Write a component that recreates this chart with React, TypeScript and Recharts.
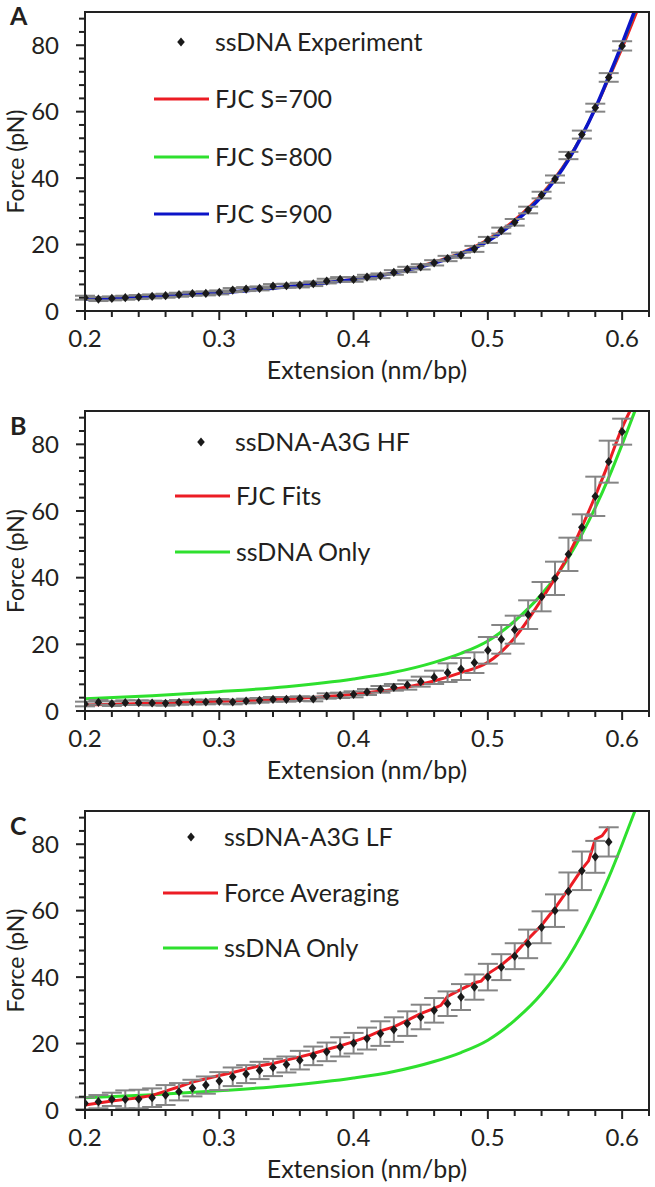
import { ComposedChart, Line, Scatter, ErrorBar, XAxis, YAxis } from 'recharts'

// extension (nm/bp) of the measured points
const EXT = [0.2, 0.21, 0.22, 0.23, 0.24, 0.25, 0.26, 0.27, 0.28, 0.29, 0.3, 0.31, 0.32, 0.33, 0.34, 0.35, 0.36, 0.37, 0.38, 0.39, 0.4,
  0.41, 0.42, 0.43, 0.44, 0.45, 0.46, 0.47, 0.48, 0.49, 0.5, 0.51, 0.52, 0.53, 0.54, 0.55, 0.56, 0.57, 0.58, 0.59, 0.6]

// A: ssDNA experiment
const A_FORCE = [4.0, 3.6, 3.8, 4.0, 4.2, 4.4, 4.6, 4.9, 5.2, 5.3, 5.6, 6.3, 6.6, 6.8, 7.5, 7.6, 7.8, 8.2, 9.0, 9.5, 9.5,
  10.2, 10.6, 11.6, 12.5, 13.3, 14.5, 15.8, 16.8, 18.7, 21.4, 24.2, 26.7, 30.4, 34.9, 39.7, 46.8, 53.1, 61.2, 70.3, 79.8]
const A_ERR = [0.6, 0.6, 0.6, 0.6, 0.6, 0.6, 0.6, 0.6, 0.6, 0.6, 0.6, 0.6, 0.6, 0.6, 0.6, 0.6, 0.7, 0.7, 0.7, 0.7, 0.7,
  0.7, 0.7, 0.7, 0.8, 0.8, 0.8, 0.8, 0.8, 0.9, 0.9, 0.9, 1.0, 1.0, 1.0, 1.1, 1.1, 1.2, 1.2, 1.3, 1.4]

// B: ssDNA-A3G HF
const B_FORCE = [2.1, 2.6, 2.2, 2.5, 2.5, 2.4, 2.3, 2.6, 2.7, 2.7, 2.9, 2.7, 3.0, 3.2, 3.5, 3.5, 3.7, 3.6, 4.5, 4.7, 5.0,
  5.7, 6.5, 7.1, 7.8, 8.8, 10.1, 11.5, 12.6, 14.5, 18.2, 21.5, 24.4, 28.9, 34.3, 39.8, 47.0, 55.1, 64.4, 74.8, 83.8]
const B_ERR = [0.7, 0.7, 0.7, 0.7, 0.7, 0.7, 0.7, 0.7, 0.7, 0.7, 0.7, 0.7, 0.7, 0.7, 0.7, 0.7, 0.7, 0.7, 0.8, 0.8, 0.9,
  0.9, 1.0, 1.0, 1.4, 1.5, 2.0, 2.8, 3.3, 3.1, 4.0, 4.3, 4.2, 4.3, 4.4, 5.0, 5.0, 3.9, 5.9, 6.3, 3.9]

// C: ssDNA-A3G LF (0.20 .. 0.59)
const C_FORCE = [2.0, 2.5, 3.2, 3.2, 3.3, 3.7, 4.5, 5.5, 6.6, 7.5, 8.7, 10.0, 10.8, 11.9, 12.8, 13.7, 15.0, 16.3, 17.5, 19.0,
  20.1, 21.5, 23.0, 24.2, 26.0, 28.0, 30.0, 32.0, 34.0, 37.0, 40.0, 43.0, 46.3, 50.0, 55.0, 60.0, 65.8, 72.0, 76.2, 80.7]
const C_ERR = [1.8, 2.0, 2.0, 2.7, 2.8, 2.8, 3.0, 2.6, 2.5, 2.6, 2.7, 2.8, 2.7, 2.6, 2.6, 2.4, 2.8, 2.8, 2.8, 2.9,
  3.1, 3.3, 3.7, 3.7, 3.7, 3.7, 3.7, 3.7, 3.9, 3.8, 4.0, 3.9, 3.9, 4.3, 4.8, 4.9, 5.7, 5.8, 4.8, 4.4]

// fitted curves
const FIT_EXT = [0.2, 0.25, 0.3, 0.35, 0.4, 0.43, 0.46, 0.48, 0.5, 0.52, 0.54, 0.56, 0.58, 0.59, 0.6]
const FJC700 = [3.5, 4.3, 5.5, 7.3, 9.6, 11.6, 14.8, 17.6, 21.6, 27.5, 35.2, 46.0, 60.8, 69.8, 79.0]
const FJC700_END = [0.611, 90]
const FJC800 = [3.5, 4.3, 5.5, 7.3, 9.5, 11.5, 14.6, 17.4, 21.3, 27.0, 34.8, 45.8, 61.0, 70.2, 80.0]
const FJC800_END = [0.6095, 90]
const FJC900 = [3.5, 4.3, 5.5, 7.3, 9.5, 11.4, 14.4, 17.2, 21.0, 26.8, 34.5, 45.5, 61.0, 70.5, 80.5]
const FJC900_END = [0.609, 90]
const HF_FIT = [1.8, 2.3, 2.9, 3.6, 5.0, 6.5, 9.0, 11.5, 14.6, 22.0, 33.5, 46.8, 64.5, 74.5, 85.0]
const HF_FIT_END = [0.6058, 90]
const SSDNA_ONLY = [3.7, 4.6, 5.8, 7.3, 9.6, 11.6, 14.6, 17.3, 21.0, 27.0, 35.0, 46.0, 61.0, 70.0, 80.0]
const SSDNA_ONLY_END = [0.6095, 90]

// C: force averaging trace
const AVG_EXT = [0.2, 0.21, 0.22, 0.23, 0.24, 0.25, 0.26, 0.27, 0.28, 0.29, 0.3, 0.31, 0.32, 0.33, 0.34, 0.35, 0.36, 0.37, 0.38, 0.39,
  0.4, 0.41, 0.42, 0.43, 0.44, 0.45, 0.46, 0.465, 0.47, 0.48, 0.49, 0.495, 0.5, 0.51, 0.52, 0.53, 0.54, 0.55, 0.56, 0.57, 0.575, 0.58, 0.585, 0.59]
const AVG_FORCE = [1.5, 2.1, 2.7, 3.2, 3.7, 4.4, 5.7, 7.0, 8.4, 9.4, 10.4, 11.3, 12.3, 13.3, 14.0, 15.0, 16.0, 17.0, 18.2, 19.3,
  20.6, 22.0, 23.8, 25.0, 27.0, 29.0, 30.6, 31.5, 34.2, 36.3, 38.3, 38.8, 41.0, 43.6, 47.0, 51.5, 55.6, 60.8, 66.5, 72.5, 75.0, 81.5, 82.5, 85.2]

const X_TICKS = Array.from({ length: 22 }, (_, i) => +(0.2 + i * 0.02).toFixed(2))
const Y_TICKS = Array.from({ length: 23 }, (_, i) => i * 4)
const X_LABELS = [0.2, 0.3, 0.4, 0.5, 0.6]
const Y_LABELS = [0, 20, 40, 60, 80]

const FONT = 'Lato, "Open Sans", sans-serif'
const INK = '#231f20'
const RED = '#ec1c24'
const GREEN = '#2ee02e'
const BLUE = '#0c14c8'

const pts = (xs: number[], ys: number[], errs?: number[]) => ys.map((y, i) => ({ x: xs[i], y, err: errs ? errs[i] : 0 }))
const curve = (xs: number[], ys: number[], end: number[]) => [...pts(xs, ys), { x: end[0], y: end[1], err: 0 }]

const PLOT_LEFT = 85
const PLOT_RIGHT = 649

const XTick = (p: any) => {
  const v = p.payload.value
  const major = X_LABELS.some(l => Math.abs(l - v) < 1e-6)
  return (
    <g>
      <line x1={p.x} x2={p.x} y1={p.y} y2={p.y + (major ? 9 : 6)} stroke="#222" strokeWidth={2} />
      {major && <text x={p.x} y={p.y + 36} textAnchor="middle" fontSize={24} fill={INK} fontFamily={FONT}>{v.toFixed(1)}</text>}
    </g>
  )
}

const YTick = (p: any) => {
  const v = p.payload.value
  const major = Y_LABELS.includes(v)
  return (
    <g>
      <line x1={p.x} x2={p.x - (major ? 9 : 6)} y1={p.y} y2={p.y} stroke="#222" strokeWidth={2} />
      {major && <text x={59} y={p.y + 8.5} textAnchor="end" fontSize={24} fill={INK} fontFamily={FONT}>{v}</text>}
    </g>
  )
}

const Diamond = (p: any) => (
  <polygon points={`${p.cx},${p.cy - 4.6} ${p.cx + 3.8},${p.cy} ${p.cx},${p.cy + 4.6} ${p.cx - 3.8},${p.cy}`} fill="#1a1a1a" />
)

type Series = { data: { x: number; y: number }[]; color: string; width: number; type: 'monotone' | 'linear' }

function Panel({ top, bottom, dots, lines }: { top: number; bottom: number; dots: any[]; lines: Series[] }) {
  const h = bottom - top
  return (
    <>
      <div style={{ position: 'absolute', left: 0, top: top - 12 }}>
        <ComposedChart width={655} height={12 + h + 60} margin={{ top: 12, right: 655 - PLOT_RIGHT, bottom: 0, left: 0 }}>
          <XAxis type="number" dataKey="x" domain={[0.2, 0.62]} ticks={X_TICKS} interval={0} allowDataOverflow
            tick={<XTick />} tickLine={false} axisLine={false} tickSize={0} tickMargin={0} height={60} />
          <YAxis type="number" dataKey="y" domain={[0, 90]} ticks={Y_TICKS} interval={0} allowDataOverflow
            tick={<YTick />} tickLine={false} axisLine={false} tickSize={0} tickMargin={0} width={PLOT_LEFT} />
          {lines.map((l, i) => (
            <Line key={i} data={l.data} dataKey="y" type={l.type} stroke={l.color} strokeWidth={l.width}
              dot={false} activeDot={false} isAnimationActive={false} />
          ))}
          <Scatter data={dots} dataKey="y" shape={<Diamond />} isAnimationActive={false}>
            <ErrorBar dataKey="err" direction="y" width={10} stroke="#858585" strokeWidth={2} isAnimationActive={false} />
          </Scatter>
        </ComposedChart>
      </div>
      <div style={{ position: 'absolute', left: PLOT_LEFT - 1, top: top - 1, width: PLOT_RIGHT - PLOT_LEFT + 2, height: h + 2,
        border: '2px solid #222', boxSizing: 'border-box', pointerEvents: 'none' }} />
    </>
  )
}

const LegendLine = ({ x, y, color, label }: { x: number; y: number; color: string; label: string }) => (
  <g>
    <line x1={x} x2={x + 55} y1={y} y2={y} stroke={color} strokeWidth={3} />
    <text x={x + 61} y={y + 8.5} fontSize={25} fill={INK} fontFamily={FONT}>{label}</text>
  </g>
)

const LegendDot = ({ x, y, tx, label }: { x: number; y: number; tx: number; label: string }) => (
  <g>
    <polygon points={`${x},${y - 4.6} ${x + 3.8},${y} ${x},${y + 4.6} ${x - 3.8},${y}`} fill="#1a1a1a" />
    <text x={tx} y={y + 8.5} fontSize={25} fill={INK} fontFamily={FONT}>{label}</text>
  </g>
)

const PANELS = [
  { letter: 'A', top: 12, bottom: 311, letterY: 25 },
  { letter: 'B', top: 411, bottom: 711, letterY: 435 },
  { letter: 'C', top: 811, bottom: 1110, letterY: 835 },
]

export default function App() {
  const cx = (PLOT_LEFT + PLOT_RIGHT) / 2
  return (
    <div style={{ position: 'absolute', left: 0, top: 0, width: 655, height: 1187, background: '#fff', overflow: 'hidden' }}>
      <Panel top={12} bottom={311} dots={pts(EXT, A_FORCE, A_ERR)} lines={[
        { data: curve(FIT_EXT, FJC700, FJC700_END), color: RED, width: 2.5, type: 'monotone' },
        { data: curve(FIT_EXT, FJC800, FJC800_END), color: GREEN, width: 2.5, type: 'monotone' },
        { data: curve(FIT_EXT, FJC900, FJC900_END), color: BLUE, width: 3.5, type: 'monotone' },
      ]} />
      <Panel top={411} bottom={711} dots={pts(EXT, B_FORCE, B_ERR)} lines={[
        { data: curve(FIT_EXT, SSDNA_ONLY, SSDNA_ONLY_END), color: GREEN, width: 3, type: 'monotone' },
        { data: curve(FIT_EXT, HF_FIT, HF_FIT_END), color: RED, width: 3, type: 'monotone' },
      ]} />
      <Panel top={811} bottom={1110} dots={pts(EXT, C_FORCE, C_ERR)} lines={[
        { data: curve(FIT_EXT, SSDNA_ONLY, SSDNA_ONLY_END), color: GREEN, width: 3, type: 'monotone' },
        { data: pts(AVG_EXT, AVG_FORCE), color: RED, width: 3, type: 'linear' },
      ]} />
      <svg width={655} height={1187} style={{ position: 'absolute', left: 0, top: 0, pointerEvents: 'none' }}>
        {PANELS.map(p => (
          <g key={p.letter}>
            <text x={10} y={p.letterY} fontSize={25} fontWeight={700} fill={INK} fontFamily={FONT}>{p.letter}</text>
            <text x={24} y={(p.top + p.bottom) / 2} transform={`rotate(-90 24 ${(p.top + p.bottom) / 2})`} textAnchor="middle"
              fontSize={23} fill={INK} fontFamily={FONT}>Force (pN)</text>
            <text x={cx} y={p.bottom + 68} textAnchor="middle" fontSize={25} fill={INK} fontFamily={FONT}>Extension (nm/bp)</text>
          </g>
        ))}
        <LegendDot x={181} y={42} tx={215} label="ssDNA Experiment" />
        <LegendLine x={154} y={99} color={RED} label="FJC S=700" />
        <LegendLine x={154} y={157} color={GREEN} label="FJC S=800" />
        <LegendLine x={154} y={214} color={BLUE} label="FJC S=900" />
        <LegendDot x={201} y={442} tx={235} label="ssDNA-A3G HF" />
        <LegendLine x={175} y={496} color={RED} label="FJC Fits" />
        <LegendLine x={175} y={552} color={GREEN} label="ssDNA Only" />
        <LegendDot x={191} y={837} tx={224} label="ssDNA-A3G LF" />
        <LegendLine x={163} y={893} color={RED} label="Force Averaging" />
        <LegendLine x={163} y={948} color={GREEN} label="ssDNA Only" />
      </svg>
    </div>
  )
}
